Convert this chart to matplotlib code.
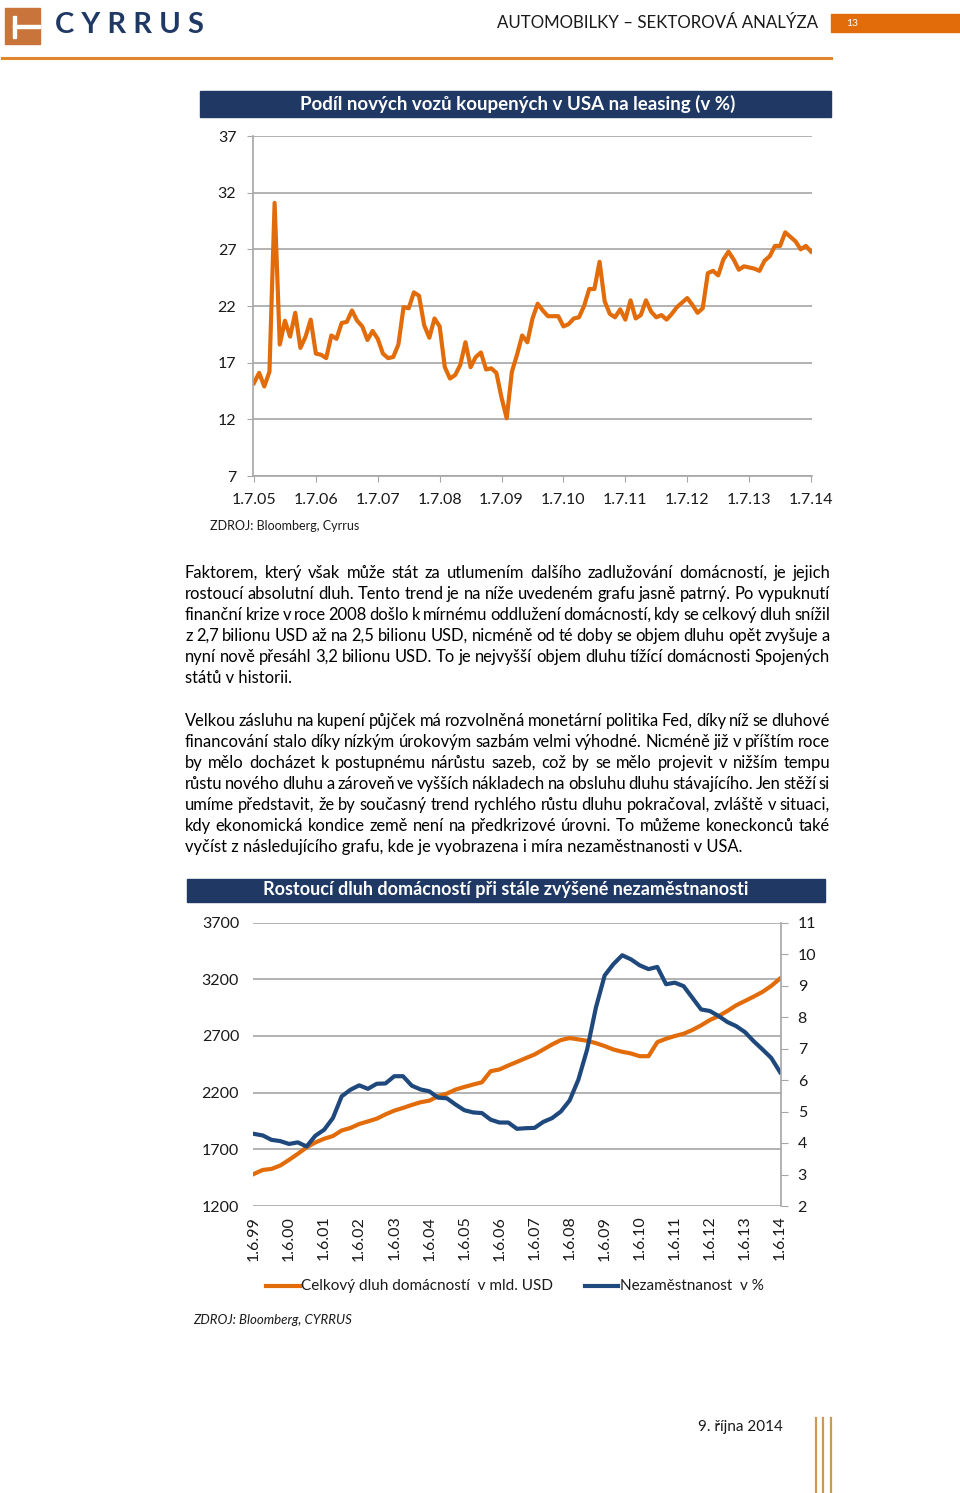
import matplotlib
matplotlib.use("Agg")
from matplotlib import pyplot as plt
from matplotlib.patches import Rectangle
from matplotlib.lines import Line2D
import numpy as np

plt.rcParams['font.family'] = ['Lato', 'DejaVu Sans']

W, H = 960, 1493
ORANGE = '#E36C0A'
NAVY = '#1F497D'
BAR = '#1F3864'
GRID = '#A6A6A6'
TXT = '#1A1A1A'

# --- chart 1: share of new cars leased in USA (monthly, 7/2005 - 7/2014)
lease_labels = ['1.7.05', '1.7.06', '1.7.07', '1.7.08', '1.7.09',
                '1.7.10', '1.7.11', '1.7.12', '1.7.13', '1.7.14']
lease_2005 = [15.2, 16.1, 14.9, 16.2, 31.1, 18.6]
lease_2006 = [20.7, 19.3, 21.4, 18.3, 19.3, 20.8, 17.8, 17.7, 17.4, 19.4, 19.1, 20.5]
lease_2007 = [20.6, 21.6, 20.7, 20.2, 19.0, 19.8, 19.1, 17.8, 17.4, 17.5, 18.6, 21.9]
lease_2008 = [21.8, 23.2, 22.9, 20.3, 19.2, 20.9, 20.2, 16.6, 15.6, 15.9, 16.8, 18.8]
lease_2009 = [16.6, 17.5, 17.9, 16.4, 16.5, 16.1, 13.9, 12.1, 16.2, 17.7, 19.4, 18.8]
lease_2010 = [20.9, 22.2, 21.6, 21.1, 21.1, 21.1, 20.2, 20.4, 20.9, 21.0, 22.0, 23.5]
lease_2011 = [23.5, 25.9, 22.4, 21.3, 21.0, 21.7, 20.8, 22.5, 20.9, 21.2, 22.5, 21.5]
lease_2012 = [21.0, 21.2, 20.8, 21.3, 21.9, 22.3, 22.7, 22.1, 21.4, 21.8, 24.9, 25.1]
lease_2013 = [24.7, 26.1, 26.8, 26.1, 25.2, 25.5, 25.4, 25.3, 25.1, 26.0, 26.4, 27.3]
lease_2014 = [27.3, 28.5, 28.1, 27.7, 27.0, 27.3, 26.8]
lease = (lease_2005 + lease_2006 + lease_2007 + lease_2008 + lease_2009 + lease_2010
         + lease_2011 + lease_2012 + lease_2013 + lease_2014)

# --- chart 2: household debt (bn USD) and unemployment (%), quarterly 6/1999 - 6/2014
debt_labels = ['1.6.99', '1.6.00', '1.6.01', '1.6.02', '1.6.03', '1.6.04', '1.6.05', '1.6.06',
               '1.6.07', '1.6.08', '1.6.09', '1.6.10', '1.6.11', '1.6.12', '1.6.13', '1.6.14']
debt = [1483, 1518, 1527, 1557, 1607, 1660, 1717, 1760, 1793, 1817,
        1866, 1888, 1923, 1946, 1970, 2008, 2041, 2065, 2091, 2115,
        2129, 2168, 2191, 2227, 2250, 2271, 2291, 2389, 2404, 2439,
        2471, 2504, 2536, 2580, 2625, 2663, 2681, 2669, 2657, 2636,
        2610, 2580, 2560, 2545, 2521, 2521, 2645, 2675, 2699, 2719,
        2752, 2793, 2840, 2875, 2920, 2970, 3008, 3047, 3088, 3141,
        3206]
unemployment = [4.29, 4.24, 4.10, 4.06, 3.97, 4.02, 3.89, 4.23, 4.42, 4.79,
                5.48, 5.69, 5.83, 5.72, 5.88, 5.89, 6.12, 6.12, 5.82, 5.70,
                5.64, 5.44, 5.42, 5.22, 5.04, 4.97, 4.95, 4.74, 4.65, 4.65,
                4.45, 4.47, 4.48, 4.67, 4.79, 5.00, 5.35, 6.01, 6.97, 8.30,
                9.32, 9.68, 9.96, 9.83, 9.64, 9.52, 9.59, 9.04, 9.09, 8.98,
                8.61, 8.24, 8.19, 8.03, 7.84, 7.71, 7.52, 7.23, 6.97, 6.70,
                6.25]

para1 = [
    "Faktorem, který však může stát za utlumením dalšího zadlužování domácností, je jejich",
    "rostoucí absolutní dluh. Tento trend je na níže uvedeném grafu jasně patrný. Po vypuknutí",
    "finanční krize v roce 2008 došlo k mírnému oddlužení domácností, kdy se celkový dluh snížil",
    "z 2,7 bilionu USD až na 2,5 bilionu USD, nicméně od té doby se objem dluhu opět zvyšuje a",
    "nyní nově přesáhl 3,2 bilionu USD. To je nejvyšší objem dluhu tížící domácnosti Spojených",
    "států v historii.",
]
para2 = [
    "Velkou zásluhu na kupení půjček má rozvolněná monetární politika Fed, díky níž se dluhové",
    "financování stalo díky nízkým úrokovým sazbám velmi výhodné. Nicméně již v příštím roce",
    "by mělo docházet k postupnému nárůstu sazeb, což by se mělo projevit v nižším tempu",
    "růstu nového dluhu a zároveň ve vyšších nákladech na obsluhu dluhu stávajícího. Jen stěží si",
    "umíme představit, že by současný trend rychlého růstu dluhu pokračoval, zvláště v situaci,",
    "kdy ekonomická kondice země není na předkrizové úrovni. To můžeme koneckonců také",
    "vyčíst z následujícího grafu, kde je vyobrazena i míra nezaměstnanosti v USA.",
]


def fx(x):
    return x / W


def fy(y):
    return 1 - y / H


fig = plt.figure(figsize=(W / 100, H / 100), dpi=100)
renderer = fig.canvas.get_renderer()


def justified(lines, x0, x1, y0, step, size):
    # Word by word so the lines fill the column like the original justified text
    for k, line in enumerate(lines):
        y = fy(y0 + k * step)
        if k == len(lines) - 1:
            fig.text(fx(x0), y, line, fontsize=size, color='black', va='baseline')
            continue
        words = line.split(' ')
        texts = [fig.text(0, y, w, fontsize=size, color='black', va='baseline') for w in words]
        widths = [t.get_window_extent(renderer).width for t in texts]
        gap = (x1 - x0 - sum(widths)) / (len(words) - 1)
        x = x0
        for t, w in zip(texts, widths):
            t.set_x(fx(x))
            x += w + gap


# header
fig.add_artist(Rectangle((fx(5), fy(44)), fx(35), 36 / H, color='#C8743A', transform=fig.transFigure))
fig.add_artist(Rectangle((fx(13), fy(38)), fx(3), 22 / H, color='white', transform=fig.transFigure))
fig.add_artist(Rectangle((fx(13), fy(28)), fx(27), 3 / H, color='white', transform=fig.transFigure))
fig.text(fx(55), fy(25), 'C Y R R U S', fontsize=21, fontweight='bold', color=BAR, va='center')
fig.text(fx(818), fy(23), 'AUTOMOBILKY – SEKTOROVÁ ANALÝZA', fontsize=12.2, color=TXT,
         ha='right', va='center')
fig.add_artist(Rectangle((fx(831), fy(32)), fx(129), 18 / H, color=ORANGE, transform=fig.transFigure))
fig.text(fx(846), fy(23), '13', fontsize=7.5, color='white', va='center')
fig.add_artist(Line2D([fx(2), fx(831)], [fy(58), fy(58)], color='#E0862E', lw=2.2))

# chart 1
fig.add_artist(Rectangle((fx(200), fy(117)), fx(631), 26 / H, color=BAR, transform=fig.transFigure))
fig.text(fx(518), fy(104), 'Podíl nových vozů koupených v USA na leasing (v %)', fontsize=13.5,
         fontweight='bold', color='white', ha='center', va='center')

ax1 = fig.add_axes([fx(253), fy(476), fx(812 - 253), (476 - 136) / H])
ax1.plot(np.arange(len(lease)), lease, color=ORANGE, lw=3, solid_joinstyle='round')
ax1.set_ylim(7, 37)
ax1.set_yticks(np.arange(7, 38, 5))
ax1.set_xlim(-0.19, len(lease) - 1 + 0.19)
ax1.set_xticks(np.arange(0, len(lease), 12))
ax1.set_xticklabels(lease_labels)
ax1.grid(axis='y', color=GRID, lw=1.2)
ax1.set_axisbelow(True)
for side in ['top', 'right']:
    ax1.spines[side].set_visible(False)
for side in ['left', 'bottom']:
    ax1.spines[side].set_color(GRID)
    ax1.spines[side].set_linewidth(1.2)
ax1.tick_params(axis='y', length=4, color=GRID, pad=8, labelsize=11.5, labelcolor=TXT)
ax1.tick_params(axis='x', length=4, color=GRID, pad=8, labelsize=11.5, labelcolor=TXT)
fig.text(fx(210), fy(526), 'ZDROJ: Bloomberg, Cyrrus', fontsize=9, color=TXT, va='center')

# text paragraphs
justified(para1, 185, 830, 578, 21, 11.9)
justified(para2, 185, 830, 726, 21, 11.9)

# chart 2
fig.add_artist(Rectangle((fx(187), fy(902)), fx(638), 23 / H, color=BAR, transform=fig.transFigure))
fig.text(fx(506), fy(890), 'Rostoucí dluh domácností při stále zvýšené nezaměstnanosti', fontsize=13,
         fontweight='bold', color='white', ha='center', va='center')

ax2 = fig.add_axes([fx(253), fy(1206), fx(781 - 253), (1206 - 922.5) / H])
x2 = np.arange(len(debt))
ax2.plot(x2, debt, color=ORANGE, lw=3, solid_joinstyle='round')
ax2.set_ylim(1200, 3700)
ax2.set_yticks(np.arange(1200, 3701, 500))
ax2.set_xlim(-0.11, len(debt) - 1 + 0.11)
ax2.set_xticks(np.arange(0, len(debt), 4))
ax2.set_xticklabels(debt_labels, rotation=90)
ax2.grid(axis='y', color=GRID, lw=1.2)
for side in ['top', 'right', 'left', 'bottom']:
    ax2.spines[side].set_visible(False)
ax2.tick_params(axis='y', length=0, pad=10, labelsize=11.5, labelcolor=TXT)
ax2.tick_params(axis='x', length=0, pad=7, labelsize=11.5, labelcolor=TXT)

ax3 = ax2.twinx()
ax3.plot(x2, unemployment, color=NAVY, lw=3, solid_joinstyle='round')
ax3.set_ylim(2, 11)
ax3.set_yticks(np.arange(2, 12, 1))
for side in ['top', 'left', 'bottom']:
    ax3.spines[side].set_visible(False)
ax3.spines['right'].set_color(GRID)
ax3.spines['right'].set_linewidth(1.2)
ax3.tick_params(axis='y', length=5, color=GRID, pad=7, labelsize=11.5, labelcolor=TXT)

# legend
fig.add_artist(Line2D([fx(266), fx(300)], [fy(1286), fy(1286)], color=ORANGE, lw=3))
fig.text(fx(301), fy(1286), 'Celkový dluh domácností  v mld. USD', fontsize=11, color=TXT, va='center')
fig.add_artist(Line2D([fx(585), fx(618)], [fy(1286), fy(1286)], color=NAVY, lw=3))
fig.text(fx(620), fy(1286), 'Nezaměstnanost  v %', fontsize=11, color=TXT, va='center')
fig.text(fx(193), fy(1320), 'ZDROJ: Bloomberg, CYRRUS', fontsize=9.5, style='italic', color=TXT, va='center')

# footer
fig.text(fx(698), fy(1427), '9. října 2014', fontsize=11, color=TXT, va='center')
for xl in [816, 823, 831]:
    fig.add_artist(Line2D([fx(xl), fx(xl)], [fy(1418), fy(1493)], color='#C9995A', lw=1.6))

fig.savefig('out.png', dpi=100)
